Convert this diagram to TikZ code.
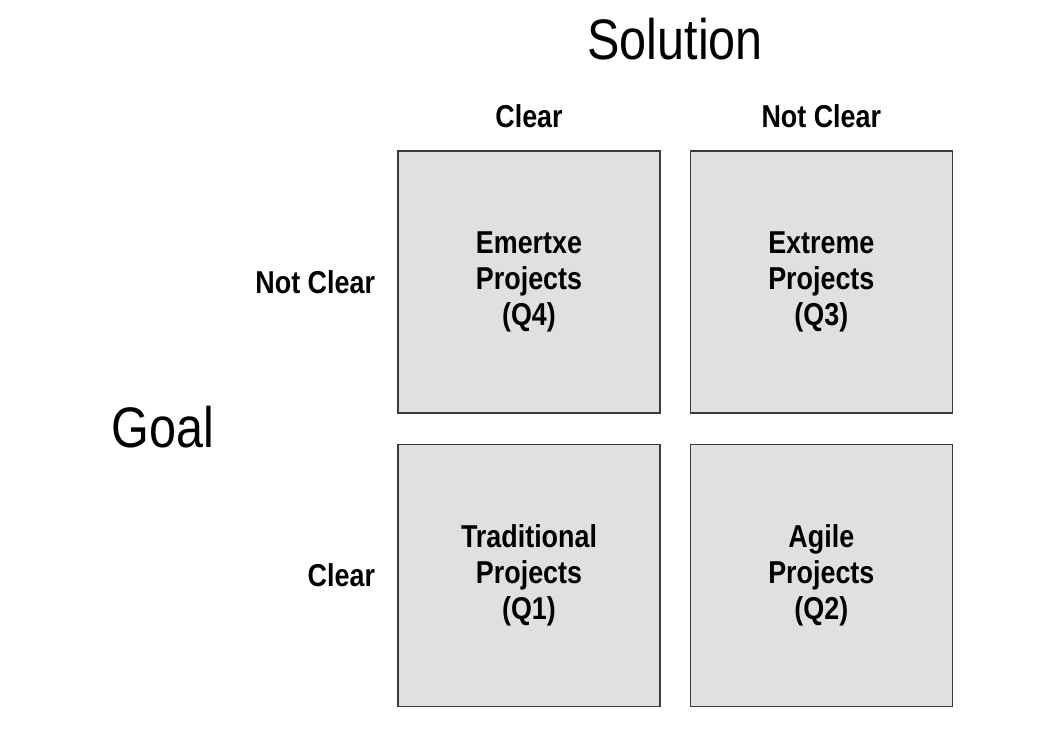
\documentclass[tikz,border=0pt]{standalone}
\usepackage{fontspec}
\setmainfont{Liberation Sans}[FakeStretch=0.85]
\usepackage{tikz}
\usetikzlibrary{positioning,calc}
\definecolor{boxFill}{HTML}{E0E0E0}
\definecolor{boxLine}{HTML}{3A3A3A}

\tikzset{
  quadbox/.style={draw=boxLine, fill=boxFill, line width=0.75pt,
    minimum width=5.24cm, minimum height=5.24cm, inner sep=0pt,
    align=center, font=\fontsize{18}{20.4}\selectfont\bfseries},
  axislabel/.style={inner sep=0pt, font=\fontsize{18}{20.4}\selectfont\bfseries},
  axistitle/.style={inner sep=0pt, font=\fontsize{32.5}{36}\selectfont}
}

\begin{document}
\begin{tikzpicture}
  \useasboundingbox (0,0) rectangle (21.28,-14.62);
  % quadrants
  \node[quadbox] (q4) at (10.58,-5.64) {Emertxe\\Projects\\(Q4)};
  \node[quadbox, right=0.58cm of q4] (q3) {Extreme\\Projects\\(Q3)};
  \node[quadbox, below=0.6cm of q4] (q1) {Traditional\\Projects\\(Q1)};
  \node[quadbox, right=0.58cm of q1] (q2) {Agile\\Projects\\(Q2)};
  % axis labels
  \node[axislabel, above=0.45cm of q4] (solClear) {Clear};
  \node[axislabel, above=0.45cm of q3] (solNotClear) {Not Clear};
  \node[axislabel, left=0.44cm of q4] (goalNotClear) {Not Clear};
  \node[axislabel, left=0.44cm of q1] (goalClear) {Clear};
  % titles
  \node[axistitle, anchor=base] (solution) at ($(q4.north)!0.5!(q3.north)+(0,1.82)$) {Solution};
  \node[axistitle] (goal) at ($(q4.center)!0.5!(q1.center)+(-7.32,0.04)$) {Goal};
\end{tikzpicture}
\end{document}
